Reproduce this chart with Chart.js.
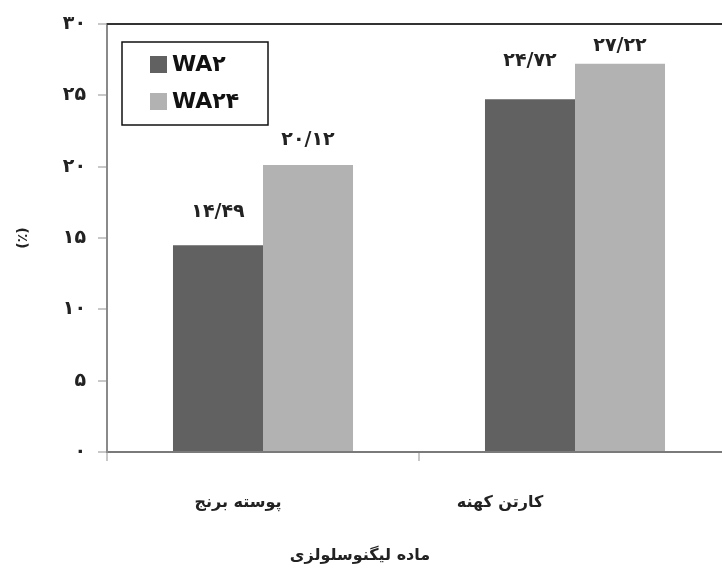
<!DOCTYPE html>
<html>
<head>
<meta charset="utf-8">
<script src="https://cdn.jsdelivr.net/npm/chart.js@4/dist/chart.umd.min.js"></script>
<style>
  html, body { margin: 0; padding: 0; background: #fff; overflow: hidden; }
  #wrap { width: 740px; height: 569px; }
</style>
</head>
<body>
<div id="wrap"><canvas id="chart" width="740" height="569"></canvas></div>
<script>
// Data
var categories = ['پوسته برنج', 'کارتن کهنه'];
var seriesNames = ['WA۲', 'WA۲۴'];
var wa2 = [14.49, 24.72];
var wa24 = [20.12, 27.22];
var yTicks = [0, 5, 10, 15, 20, 25, 30];
var xTitle = 'ماده لیگنوسلولزی';

// Gap between bar top and value label centre (px), per series
var labelGap = [[33, 38], [25, 18]];
// Category labels sit left of the group centre in the original
var catShift = [-25, -75];

var FONT = '"DejaVu Sans", sans-serif';
var TEXT = '#222';

/**
 * Latin digits to Persian digits, decimal point as "/"
 */
function toFa(v) {
    var digits = '۰۱۲۳۴۵۶۷۸۹';
    return String(v).replace('.', '/').replace(/[0-9]/g, function (d) { return digits[d]; });
}

// Value labels over the bars
var valueLabels = {
    id: 'valueLabels',
    afterDatasetsDraw: function (chart) {
        var ctx = chart.ctx;
        ctx.save();
        ctx.font = 'bold 19px ' + FONT;
        ctx.fillStyle = TEXT;
        ctx.textAlign = 'center';
        ctx.textBaseline = 'middle';
        chart.data.datasets.forEach(function (ds, i) {
            chart.getDatasetMeta(i).data.forEach(function (bar, j) {
                ctx.fillText(toFa(ds.data[j].toFixed(2)), bar.x, bar.y - labelGap[i][j]);
            });
        });
        ctx.restore();
    }
};

// Top frame line, boxed legend, category labels and x title
var frame = {
    id: 'frame',
    afterDraw: function (chart) {
        var ctx = chart.ctx;
        var a = chart.chartArea;
        var xs = chart.scales.x;
        ctx.save();
        ctx.strokeStyle = '#333';
        ctx.lineWidth = 2;
        ctx.beginPath();
        ctx.moveTo(a.left, a.top);
        ctx.lineTo(a.right, a.top);
        ctx.stroke();

        // Legend
        var lx = a.left + 15, ly = a.top + 18;
        ctx.lineWidth = 1.5;
        ctx.strokeStyle = '#111';
        ctx.strokeRect(lx, ly, 146, 83);
        ctx.font = 'bold 22px ' + FONT;
        ctx.textBaseline = 'middle';
        ctx.textAlign = 'left';
        chart.data.datasets.forEach(function (ds, i) {
            var cy = ly + 22 + i * 37;
            ctx.fillStyle = ds.backgroundColor;
            ctx.fillRect(lx + 28, cy - 8, 17, 17);
            ctx.fillStyle = '#111';
            ctx.fillText(ds.label, lx + 50, cy + 1);
        });

        // Category labels
        ctx.font = 'bold 16px ' + FONT;
        ctx.fillStyle = TEXT;
        ctx.textAlign = 'center';
        categories.forEach(function (c, i) {
            ctx.fillText(c, xs.getPixelForTick(i) + catShift[i], a.bottom + 51);
        });

        // Axis title
        ctx.fillText(xTitle, 360, a.bottom + 104);
        ctx.restore();
    }
};

var chart = new Chart(document.getElementById('chart').getContext('2d'), {
    type: 'bar',
    data: {
        labels: categories,
        datasets: [
            { label: seriesNames[0], data: wa2, backgroundColor: '#616161' },
            { label: seriesNames[1], data: wa24, backgroundColor: '#b2b2b2' }
        ]
    },
    options: {
        responsive: false,
        animation: false,
        layout: { padding: { left: 0, right: 9, top: 24, bottom: 0 } },
        plugins: {
            legend: { display: false },
            tooltip: { enabled: false }
        },
        datasets: {
            bar: { categoryPercentage: 0.577, barPercentage: 1.0 }
        },
        scales: {
            x: {
                grid: {
                    offset: true,
                    drawOnChartArea: false,
                    tickLength: 9,
                    color: '#c8c8c8',
                    lineWidth: 2
                },
                border: { color: '#7a7a7a', width: 2 },
                ticks: {
                    // drawn by the frame plugin
                    color: 'rgba(0,0,0,0)',
                    font: { family: FONT, size: 16, weight: 'bold' }
                },
                afterFit: function (scale) { scale.height = 117; }
            },
            y: {
                min: 0,
                max: 30,
                afterBuildTicks: function (scale) {
                    scale.ticks = yTicks.map(function (v) { return { value: v }; });
                },
                grid: {
                    drawOnChartArea: false,
                    tickLength: 9,
                    color: '#c8c8c8',
                    lineWidth: 2
                },
                border: { color: '#8a8a8a', width: 2 },
                ticks: {
                    padding: 12,
                    color: TEXT,
                    font: { family: FONT, size: 19, weight: 'bold' },
                    callback: function (v) { return toFa(v); }
                },
                title: {
                    display: true,
                    text: '(٪)',
                    color: TEXT,
                    padding: { top: 15, bottom: 0 },
                    font: { family: FONT, size: 14, weight: 'bold' }
                },
                afterFit: function (scale) { scale.width = 107; }
            }
        }
    },
    plugins: [valueLabels, frame]
});
</script>
</body>
</html>
